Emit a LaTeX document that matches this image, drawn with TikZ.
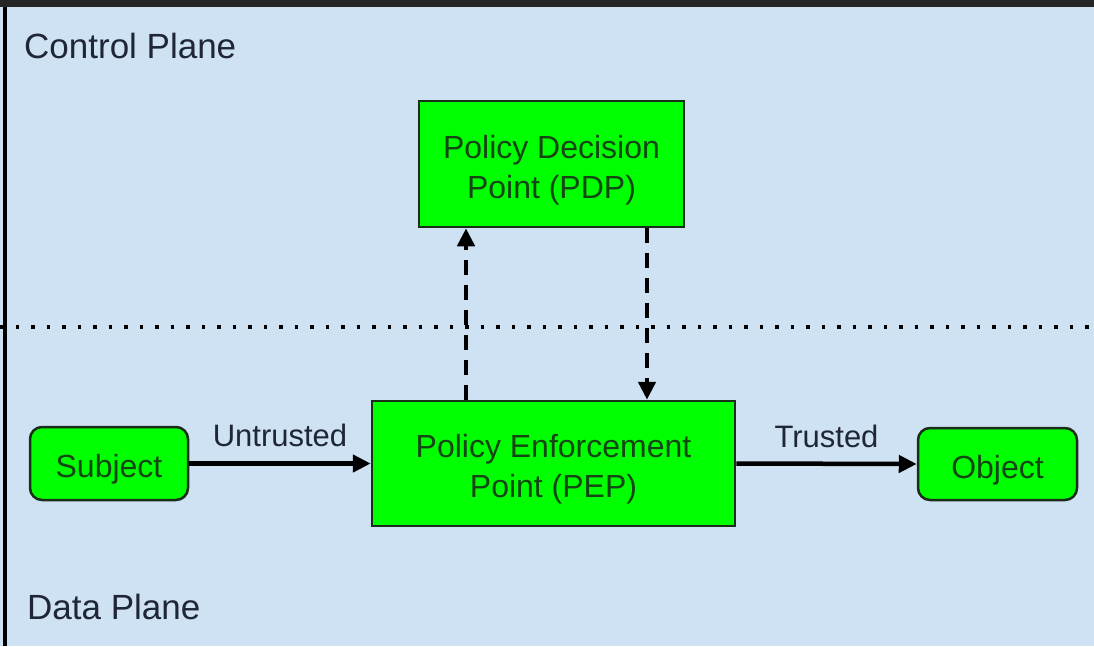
\documentclass[tikz,border=0pt]{standalone}
\usepackage{fontspec}
\setmainfont{Liberation Sans}
\usetikzlibrary{arrows.meta}
\definecolor{planeblue}{RGB}{207,226,243}
\definecolor{boxgreen}{RGB}{0,255,0}
\definecolor{boxline}{RGB}{25,45,25}
\definecolor{boxtext}{RGB}{20,70,20}
\definecolor{labeltext}{RGB}{30,38,55}
\newcommand{\boxstrut}{\rule{0pt}{35pt}}
\begin{document}
\begin{tikzpicture}[x=1pt,y=-1pt,
		box/.style={draw=boxline,line width=2.5pt,fill=boxgreen,text=boxtext,inner sep=0pt,align=center,font=\fontsize{32}{40}\selectfont},
		endbox/.style={box,rounded corners=12pt},
		flow/.style={line width=4.5pt,-{Triangle[length=18pt,width=17pt]}},
		ask/.style={flow,dash pattern=on 15pt off 10pt},
		lbl/.style={text=labeltext,inner sep=0pt,font=\fontsize{31}{36}\selectfont},
		plane/.style={text=labeltext,inner sep=0pt,anchor=base west,font=\fontsize{35}{40}\selectfont}]
				\useasboundingbox (0,0) rectangle (1094,646);
				\fill[planeblue] (0,0) rectangle (1094,646);
				\fill[black!85] (0,0) rectangle (1094,7);
				\draw[line width=4pt] (5,7) -- (5,646);
				\draw[line width=3.5pt,dash pattern=on 3.5pt off 12pt] (0,327) -- (1094,327);
				\node[plane] (ctrl) at (24,58) {Control Plane};
				\node[plane] (data) at (27,619) {Data Plane};
				\node[box,minimum width=265pt,minimum height=126pt] (pdp) at (551.5,164) {\boxstrut Policy Decision\\Point (PDP)};
				\node[box,minimum width=363pt,minimum height=125pt] (pep) at (553.5,463.5) {\boxstrut Policy Enforcement\\Point (PEP)};
				\node[endbox,minimum width=158pt,minimum height=73pt] (subject) at (109,463.5) {\boxstrut Subject};
				\node[endbox,minimum width=159pt,minimum height=72pt] (object) at (997.5,464) {\boxstrut Object};
				\coordinate (upx) at (466,0);
				\coordinate (downx) at (647,0);
				\draw[flow] (subject.east) -- node[lbl,above=14pt] {Untrusted} (pep.west);
				\draw[flow] (pep.east) -- node[lbl,above=14pt] {Trusted} (object.west);
				\draw[ask] (pep.north -| upx) -- (pdp.south -| upx);
				\draw[ask] (pdp.south -| downx) -- (pep.north -| downx);
			\end{tikzpicture}
\end{document}
